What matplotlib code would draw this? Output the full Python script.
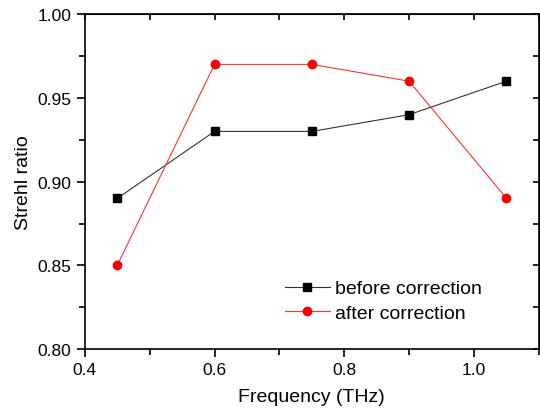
import matplotlib
matplotlib.use("Agg")
import matplotlib.pyplot as plt
from matplotlib.ticker import MultipleLocator

plt.rcParams['font.family'] = ['Liberation Sans', 'DejaVu Sans']

freq = [0.45, 0.60, 0.75, 0.90, 1.05]
before = [0.89, 0.93, 0.93, 0.94, 0.96]
after = [0.85, 0.97, 0.97, 0.96, 0.89]

fig = plt.figure(figsize=(5.4, 4.1), dpi=100)
ax = fig.add_axes([0.157, 0.146, 0.841, 0.817])

ax.plot(freq, before, color='#333333', lw=0.8, marker='s', ms=5.2,
        mfc='black', mec='black', label='before correction')
ax.plot(freq, after, color='#ff3333', lw=0.8, marker='o', ms=6,
        mfc='red', mec='red', label='after correction')

ax.set_xlim(0.4, 1.1)
ax.set_ylim(0.80, 1.00)
ax.xaxis.set_major_locator(MultipleLocator(0.2))
ax.xaxis.set_minor_locator(MultipleLocator(0.1))
ax.yaxis.set_major_locator(MultipleLocator(0.05))
ax.yaxis.set_minor_locator(MultipleLocator(0.025))
ax.xaxis.set_major_formatter(plt.FuncFormatter(lambda v, p: f"{v:.1f}"))
ax.yaxis.set_major_formatter(plt.FuncFormatter(lambda v, p: f"{v:.2f}"))

ax.tick_params(which='both', direction='out', labelsize=12.5, width=1.2)
ax.tick_params(which='major', length=6)
ax.tick_params(which='minor', length=4)
for s in ax.spines.values():
    s.set_linewidth(1.2)

# inward ticks on top and right
axt = ax.secondary_xaxis('top')
axt.xaxis.set_major_locator(MultipleLocator(0.1))
axt.tick_params(direction='in', length=4, width=1.2, labeltop=False)
axr = ax.secondary_yaxis('right')
axr.yaxis.set_major_locator(MultipleLocator(0.025))
axr.tick_params(direction='in', length=4, width=1.2, labelright=False)

ax.set_xlabel('Frequency (THz)', fontsize=14, labelpad=8)
ax.set_ylabel('Strehl ratio', fontsize=14, labelpad=4)

ax.legend(loc='upper left', bbox_to_anchor=(0.4405, 0.207), frameon=False,
          fontsize=14, handlelength=2.3, handletextpad=0.3, labelspacing=0.35,
          borderpad=0, borderaxespad=0)

fig.savefig('out.png', dpi=100)
